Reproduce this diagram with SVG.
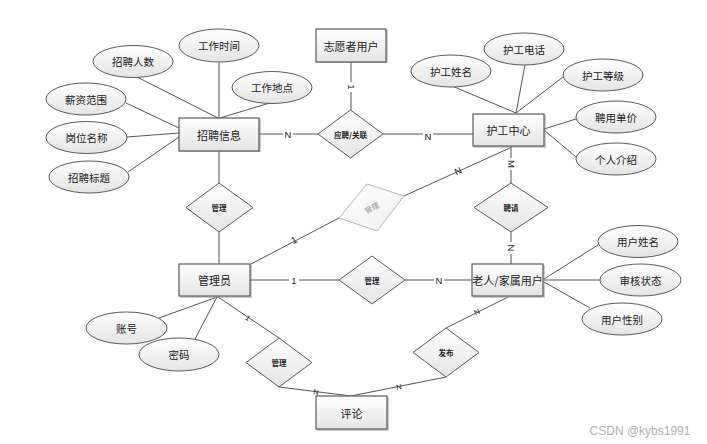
<svg xmlns="http://www.w3.org/2000/svg" width="707" height="444" viewBox="0 0 707 444">
<defs>
<linearGradient id="g" x1="0" y1="0" x2="0" y2="1">
<stop offset="0" stop-color="#ffffff"/>
<stop offset="1" stop-color="#e4e4e4"/>
</linearGradient>
<linearGradient id="gl" x1="0" y1="0" x2="1" y2="1">
<stop offset="0" stop-color="#ffffff"/>
<stop offset="1" stop-color="#eeeeee"/>
</linearGradient>
</defs>
<style>
text{font-family:"Noto Sans CJK SC","Liberation Sans",sans-serif;fill:#222;text-anchor:middle;dominant-baseline:central}
.ent rect.b{fill:url(#g);stroke:#5a5a5a;stroke-width:1.2}
.ent rect.s{fill:#9a9a9a;opacity:.5}
.ent text{font-size:11px}
.att ellipse{fill:url(#g);stroke:#5a5a5a;stroke-width:1}
.att text{font-size:10.5px}
.rel polygon{fill:url(#g);stroke:#5a5a5a;stroke-width:1}
.rel text{font-size:7.5px;font-weight:bold}
.rel.faint polygon{fill:url(#gl);stroke:#b5b5b5}
.rel.faint text{fill:#999;font-weight:normal}
#conn line,#conn polyline{stroke:#555;stroke-width:1;fill:none}
.lbl{font-size:9.5px;fill:#222;font-family:"Liberation Sans",sans-serif}
.lbls{font-size:7.5px;fill:#222;font-family:"Liberation Sans",sans-serif}
</style>
<rect width="707" height="444" fill="#fff"/>

<g id="conn">
<!-- 招聘信息 attributes -->
<line x1="137" y1="77" x2="218" y2="118"/>
<line x1="219" y1="62" x2="219" y2="118"/>
<line x1="273" y1="102" x2="220" y2="118"/>
<line x1="126" y1="103" x2="179" y2="128"/>
<line x1="127" y1="137" x2="179" y2="133"/>
<line x1="128" y1="172" x2="179" y2="137"/>
<!-- 招聘信息 - 应聘/关联 -->
<line x1="259" y1="134" x2="318" y2="134"/>
<!-- 志愿者用户 - 应聘/关联 -->
<line x1="351" y1="62" x2="351" y2="110"/>
<!-- 应聘/关联 - 护工中心 -->
<line x1="383" y1="134" x2="473" y2="134"/>
<!-- 护工中心 attributes -->
<line x1="452" y1="86" x2="516" y2="113"/>
<line x1="525" y1="65" x2="516" y2="113"/>
<line x1="563" y1="77" x2="516" y2="113"/>
<line x1="576" y1="119" x2="544" y2="129"/>
<line x1="576" y1="157" x2="544" y2="130"/>
<!-- 护工中心 - 聘请 - 老人 -->
<line x1="511" y1="146" x2="511" y2="183"/>
<line x1="511" y1="232" x2="511" y2="264"/>
<!-- 护工中心 - faint 管理 - 管理员 -->
<line x1="512" y1="147" x2="404" y2="196"/>
<line x1="339" y1="218" x2="251" y2="264"/>
<!-- 招聘信息 - 管理 - 管理员 -->
<line x1="219" y1="151" x2="219" y2="183"/>
<line x1="219" y1="232" x2="219" y2="264"/>
<!-- 管理员 - 管理 - 老人 -->
<line x1="250" y1="280" x2="339" y2="280"/>
<line x1="405" y1="280" x2="472" y2="280"/>
<!-- 老人 attributes -->
<line x1="598" y1="245" x2="544" y2="279"/>
<line x1="600" y1="280" x2="544" y2="280"/>
<line x1="590" y1="308" x2="544" y2="282"/>
<!-- 老人 - 发布 - 评论 -->
<line x1="508" y1="297" x2="446" y2="328"/>
<line x1="446" y1="377" x2="351" y2="396"/>
<!-- 管理员 attributes -->
<line x1="159" y1="318" x2="217" y2="297"/>
<line x1="195" y1="339" x2="217" y2="297"/>
<!-- 管理员 - 管理 - 评论 -->
<line x1="218" y1="297" x2="279" y2="338"/>
<line x1="279" y1="387" x2="351" y2="396"/>

<!-- cardinality labels -->
<rect x="283" y="128" width="10" height="12" fill="#fff"/>
<text class="lbl" x="288" y="134">N</text>
<rect x="346" y="82" width="10" height="10" fill="#fff"/>
<text class="lbl" x="351" y="87" transform="rotate(90 351 87)">1</text>
<rect x="423" y="130" width="10" height="12" fill="#fff"/>
<text class="lbl" x="428" y="136">N</text>
<rect x="506" y="158" width="10" height="12" fill="#fff"/>
<text class="lbl" x="511" y="164" transform="rotate(90 511 164)">M</text>
<rect x="506" y="242" width="10" height="12" fill="#fff"/>
<text class="lbl" x="511" y="248" transform="rotate(90 511 248)">N</text>
<text class="lbl" x="458" y="171" transform="rotate(-24 458 171)">N</text>
<text class="lbl" x="294" y="240" transform="rotate(-28 294 240)">1</text>
<rect x="289" y="274" width="10" height="12" fill="#fff"/>
<text class="lbl" x="294" y="280">1</text>
<rect x="434" y="274" width="10" height="12" fill="#fff"/>
<text class="lbl" x="439" y="280">N</text>
<text class="lbls" x="477" y="312" transform="rotate(-27 477 312)">N</text>
<text class="lbls" x="399" y="387" transform="rotate(-11 399 387)">N</text>
<text class="lbls" x="316" y="392" transform="rotate(7 316 392)">N</text>
<text class="lbls" x="248" y="318" transform="rotate(34 248 318)">1</text>
</g>

<!-- entities -->
<g id="e-zhaopin" class="ent"><rect class="s" x="180" y="119" width="81" height="33"/><rect class="b" x="179" y="118" width="80" height="33"/><text x="219" y="134.5">招聘信息</text></g>
<g id="e-zhiyuan" class="ent"><rect class="s" x="317" y="30" width="71" height="33"/><rect class="b" x="316" y="29" width="70" height="33"/><text x="351" y="45.5">志愿者用户</text></g>
<g id="e-hugong" class="ent"><rect class="s" x="474" y="115" width="72" height="33"/><rect class="b" x="473" y="114" width="71" height="32"/><text x="508.5" y="130">护工中心</text></g>
<g id="e-admin" class="ent"><rect class="s" x="180" y="265" width="72" height="33"/><rect class="b" x="179" y="264" width="71" height="32"/><text x="214.5" y="280">管理员</text></g>
<g id="e-user" class="ent"><rect class="s" x="473" y="265" width="72" height="33"/><rect class="b" x="472" y="264" width="71" height="32"/><text x="507.5" y="280">老人/家属用户</text></g>
<g id="e-pinglun" class="ent"><rect class="s" x="317" y="397" width="72" height="34"/><rect class="b" x="316" y="396" width="71" height="33"/><text x="351.5" y="412.5">评论</text></g>

<!-- attributes -->
<g id="a-gzsj" class="att"><ellipse cx="219" cy="45.5" rx="40" ry="16.5"/><text x="219" y="45.5">工作时间</text></g>
<g id="a-zprs" class="att"><ellipse cx="133" cy="61.5" rx="40" ry="16"/><text x="133" y="61.5">招聘人数</text></g>
<g id="a-gzdd" class="att"><ellipse cx="272" cy="87.5" rx="40" ry="16"/><text x="272" y="87.5">工作地点</text></g>
<g id="a-xzfw" class="att"><ellipse cx="86" cy="99" rx="40" ry="16"/><text x="86" y="99">薪资范围</text></g>
<g id="a-gwmc" class="att"><ellipse cx="86.5" cy="137.5" rx="40.5" ry="16"/><text x="86.5" y="137.5">岗位名称</text></g>
<g id="a-zpbt" class="att"><ellipse cx="89" cy="177" rx="40" ry="16"/><text x="89" y="177">招聘标题</text></g>
<g id="a-hgxm" class="att"><ellipse cx="451" cy="71" rx="40" ry="16"/><text x="451" y="71">护工姓名</text></g>
<g id="a-hgdh" class="att"><ellipse cx="524" cy="49" rx="40" ry="16"/><text x="524" y="49">护工电话</text></g>
<g id="a-hgdj" class="att"><ellipse cx="603" cy="75" rx="40" ry="16"/><text x="603" y="75">护工等级</text></g>
<g id="a-pydj" class="att"><ellipse cx="616" cy="117" rx="40" ry="16"/><text x="616" y="117">聘用单价</text></g>
<g id="a-grjs" class="att"><ellipse cx="616" cy="159" rx="40" ry="16"/><text x="616" y="159">个人介绍</text></g>
<g id="a-yhxm" class="att"><ellipse cx="638" cy="241.5" rx="40" ry="16"/><text x="638" y="241.5">用户姓名</text></g>
<g id="a-shzt" class="att"><ellipse cx="640.5" cy="280" rx="40.5" ry="16"/><text x="640.5" y="280">审核状态</text></g>
<g id="a-yhxb" class="att"><ellipse cx="622" cy="319" rx="40" ry="16"/><text x="622" y="319">用户性别</text></g>
<g id="a-zh" class="att"><ellipse cx="126.5" cy="328" rx="40.5" ry="16"/><text x="126.5" y="328">账号</text></g>
<g id="a-mm" class="att"><ellipse cx="179" cy="354.5" rx="40" ry="16.5"/><text x="179" y="354.5">密码</text></g>

<!-- relationships -->
<g id="r-yingpin" class="rel"><polygon points="350.5,110 383,134 350.5,158 318,134"/><text x="350.5" y="134">应聘/关联</text></g>
<g id="r-guanli1" class="rel"><polygon points="219,183 253,207.5 219,232 186,207.5"/><text x="219" y="207.5">管理</text></g>
<g id="r-pinqing" class="rel"><polygon points="511,183 548,207.5 511,232 474,207.5"/><text x="511" y="207.5">聘请</text></g>
<g id="r-guanli2" class="rel faint"><polygon points="367,184 404,196 377,231 339,218"/><text x="371.5" y="207.5" transform="rotate(-28 371.5 207.5)">管理</text></g>
<g id="r-guanli3" class="rel"><polygon points="372,256 405,280 372,304 339,280"/><text x="372" y="280">管理</text></g>
<g id="r-guanli4" class="rel"><polygon points="279,338 312,362.5 279,387 246,362.5"/><text x="279" y="362.5">管理</text></g>
<g id="r-fabu" class="rel"><polygon points="446,328 479,352.5 446,377 413,352.5"/><text x="446" y="352.5">发布</text></g>

<text x="640" y="431" style="font-family:'Liberation Sans','Noto Sans',sans-serif;font-size:12px;fill:#b0b0b0">CSDN @kybs1991</text>
</svg>
